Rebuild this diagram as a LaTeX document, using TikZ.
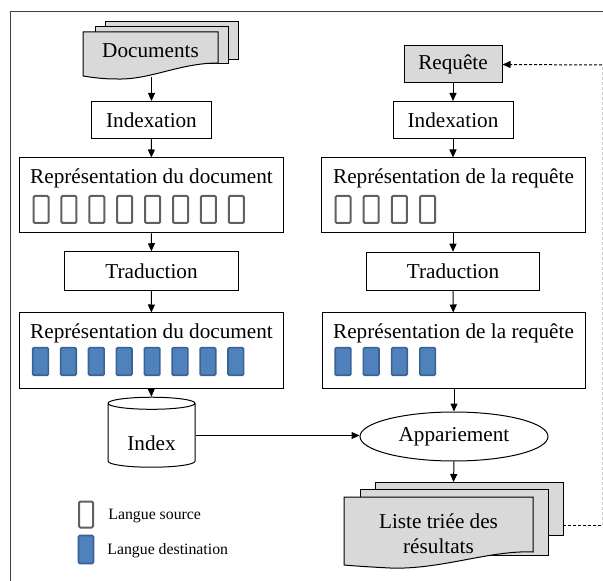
\documentclass[tikz,border=0pt]{standalone}
\usepackage{fontspec}
\setmainfont{Liberation Serif}
\usetikzlibrary{arrows.meta,shapes.geometric}

\definecolor{sheetgray}{HTML}{D9D9D9}
\definecolor{srcgray}{HTML}{606060}
\definecolor{dstblue}{HTML}{4F81BD}
\definecolor{dstedge}{HTML}{3A6394}

\tikzset{
    box/.style={draw, line width=0.5pt, inner sep=0pt,
        font=\fontsize{10.6}{12.5}\selectfont},
    sheet/.style={draw, line width=0.5pt, fill=sheetgray},
    srcsq/.style={draw=srcgray, line width=1pt, rounded corners=0.6pt,
        minimum width=7.5pt, minimum height=13.5pt, inner sep=0pt},
    dstsq/.style={draw=dstedge, fill=dstblue, line width=0.8pt, rounded corners=0.6pt,
        minimum width=7.8pt, minimum height=13.8pt, inner sep=0pt},
    arr/.style={-{Triangle[length=4pt,width=3.5pt]}, line width=0.5pt},
    feedback/.style={dashed, dash pattern=on 1.5pt off 1pt, line width=0.5pt},
    legend/.style={anchor=west, inner sep=0pt, font=\fontsize{7.9}{9.5}\selectfont}
}

\begin{document}
\begin{tikzpicture}[x=0.5pt, y=-0.5pt]
        \useasboundingbox (0,0) rectangle (603,581);
        \draw[line width=0.5pt, black!75] (603,12) -- (10,12) -- (10,581);

        \draw[sheet] (105,22) rectangle (238,60);
        \draw[sheet] (95,27) rectangle (228,64);
        \draw[sheet] (83,32) -- (218,32) -- (218,63)
            .. controls (180,63) and (150,80) .. (117,79)
            .. controls (100,79) and (90,77) .. (83,76) -- cycle;
        \node[box, draw=none] (docs) at (150.5,51) {Documents};
        \coordinate (docsbot) at (151.5,77);

        \node[box, minimum width=60pt, minimum height=18.5pt] (idxL) at (151.5,120) {Indexation};
        \node[box, minimum width=131.75pt, minimum height=37.5pt] (repL1) at (151.25,195.5) {};
        \node[box, draw=none] (repL1t) at (151.5,178) {Représentation du document};
        \foreach \i in {0,...,7}
            \node[srcsq] (srcL\i) at ({41+27.9*\i},209.5) {};
        \node[box, minimum width=87pt, minimum height=19.25pt] (tradL) at (151.5,271) {Traduction};
        \node[box, minimum width=131.75pt, minimum height=38pt] (repL2) at (151.25,351) {};
        \node[box, draw=none] (repL2t) at (151.5,333) {Représentation du document};
        \foreach \i in {0,...,7}
            \node[dstsq] (dstL\i) at ({40.5+27.9*\i},361.5) {};
        \node[box, cylinder, shape border rotate=90, aspect=0.25,
            minimum width=43.5pt, minimum height=35pt] (index) at (151.5,435.5) {\phantom{Index}};
        \node[box, draw=none] (indext) at (151.5,443) {Index};

        \node[box, fill=sheetgray, minimum width=49pt, minimum height=18.5pt] (req) at (453,64.5) {Requête};
        \node[box, minimum width=60pt, minimum height=18.5pt] (idxR) at (453,120) {Indexation};
        \node[box, minimum width=132pt, minimum height=37.5pt] (repR1) at (453,195.5) {};
        \node[box, draw=none] (repR1t) at (453.5,178) {Représentation de la requête};
        \foreach \i in {0,...,3}
            \node[srcsq] (srcR\i) at ({343+28.2*\i},209.5) {};
        \node[box, minimum width=86.5pt, minimum height=19.25pt] (tradR) at (453,271.5) {Traduction};
        \node[box, minimum width=131.5pt, minimum height=38pt] (repR2) at (453.5,351) {};
        \node[box, draw=none] (repR2t) at (453.5,333) {Représentation de la requête};
        \foreach \i in {0,...,3}
            \node[dstsq] (dstR\i) at ({343+28.2*\i},361.5) {};
        \node[box, ellipse, minimum width=94pt, minimum height=24.5pt] (match) at (454,436.5) {Appariement};

        \draw[sheet] (375,482) rectangle (563,535);
        \draw[sheet] (360,489) rectangle (548,555);
        \draw[sheet] (344,497) -- (533,497) -- (533,552)
            .. controls (490,550) and (440,570) .. (390,568)
            .. controls (370,567) and (355,566) .. (344,565) -- cycle;
        \node[box, draw=none, align=center] (list) at (438.5,534) {Liste triée des\\résultats};
        \coordinate (listtop) at (453.5,482);
        \coordinate (listright) at (563,525);
        \coordinate (fbA) at (602,525);
        \coordinate (fbB) at (602,65);

        \draw[arr] (docsbot) -- (idxL);
        \draw[arr] (idxL) -- (repL1);
        \draw[arr] (repL1) -- (tradL);
        \draw[arr] (tradL) -- (repL2);
        \draw[arr] (repL2.south) -- (index.top);
        \draw[arr] (req) -- (idxR);
        \draw[arr] (idxR) -- (repR1);
        \draw[arr] (repR1) -- (tradR);
        \draw[arr] (tradR) -- (repR2);
        \draw[arr] (repR2.south -| match.north) -- (match.north);
        \draw[arr] (index.east) -- (index.east -| match.west);
        \draw[arr] (match.south) -- (listtop);
        \draw[feedback] (listright) -- (fbA);
        \draw[feedback, black!20] (fbA) -- (fbB);
        \draw[feedback, arr] (fbB) -- (req.east);

        \node[srcsq, minimum width=7pt, minimum height=13pt] (legsrc) at (86,514.5) {};
        \node[legend] (legsrct) at (108,516) {Langue source};
        \node[dstsq, minimum width=7.5pt, minimum height=14pt] (legdst) at (86,549.5) {};
        \node[legend] (legdstt) at (107,551) {Langue destination};

    \end{tikzpicture}
\end{document}
